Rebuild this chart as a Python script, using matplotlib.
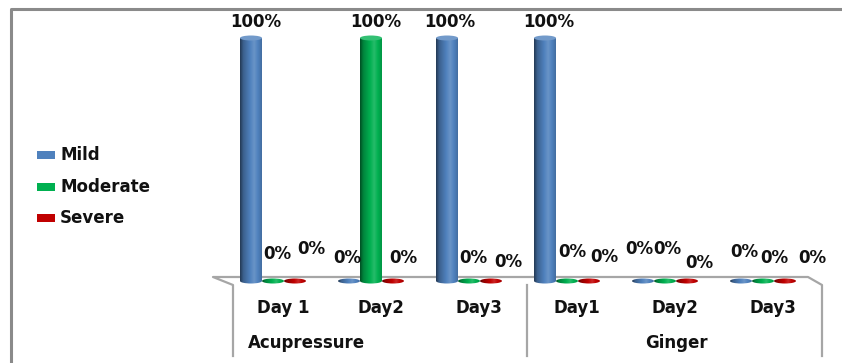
import numpy as np
import matplotlib.pyplot as plt
from matplotlib.patches import Ellipse, Rectangle
from matplotlib.colors import to_rgb

groups = ['Acupressure', 'Ginger']
days = ['Day 1', 'Day2', 'Day3', 'Day1', 'Day2', 'Day3']
series = ['Mild', 'Moderate', 'Severe']
mild = [100, 0, 100, 100, 0, 0]
moderate = [0, 100, 0, 0, 0, 0]
severe = [0, 0, 0, 0, 0, 0]
colors = ['#4f81bd', '#00b050', '#c00000']

# label nudges in pixels (dx, dy above the bar top), per day and series
nudges = [
    [(5, 16), (4, 27), (16, 32)],
    [(-2, 23), (5, 16), (10, 23)],
    [(3, 16), (4, 23), (17, 19)],
    [(4, 16), (5, 29), (15, 24)],
    [(-4, 32), (2, 32), (12, 18)],
    [(3, 29), (11, 23), (27, 23)],
]

W, H = 842, 363
fig = plt.figure(figsize=(W / 100, H / 100), dpi=100)
ax = fig.add_axes([0, 0, 1, 1])
ax.set_axis_off()

step = 98.0      # px per day
x0 = 273.0       # px centre of the first day
base = 281.0     # px baseline (from top)
ppu = 2.43       # px per percent
ax.set_xlim(-x0 / step, (W - x0) / step)
ax.set_ylim(-(H - base) / ppu, base / ppu)


def px(x, y):
    return (x - x0) / step, (base - y) / ppu


plt.rcParams['font.family'] = ['DejaVu Sans']
font = dict(fontsize=12, fontweight='bold', color='#111111')

# outer frame
fx, fy = zip(px(11, H), px(11, 9), px(W, 9))
ax.plot(fx, fy, color='#8a8a8a', lw=2.2, solid_capstyle='butt')

# floor and category box
fx, fy = zip(px(233, 356), px(233, 285), px(213, 277), px(808, 277),
             px(822, 285), px(822, 356))
ax.plot(fx, fy, color='#a6a6a6', lw=1.6)
fx, fy = zip(px(527, 285), px(527, 356))
ax.plot(fx, fy, color='#a6a6a6', lw=1.6)


def shaded(rgb, n=64):
    t = np.linspace(0, 1, n)
    f = np.interp(t, [0, 0.15, 0.65, 1], [0.45, 0.75, 1.15, 0.85])
    rgb = np.array(rgb)
    out = np.where(f[:, None] <= 1, rgb * f[:, None],
                   rgb + (1 - rgb) * (f[:, None] - 1))
    return out[None, :, :]


bw = 22 / step
cap = 5 / ppu
values = [mild, moderate, severe]
for i in range(len(days)):
    for s in range(3):
        v = values[s][i]
        xc = i + (s - 1) * bw
        rgb = to_rgb(colors[s])
        img = shaded(rgb)
        bot = Ellipse((xc, 0), bw, cap, facecolor='none', edgecolor='none')
        ax.add_patch(bot)
        im = ax.imshow(img, extent=(xc - bw / 2, xc + bw / 2, -cap, v + cap),
                       aspect='auto', zorder=2)
        im.set_clip_path(bot)
        if v > 0:
            rect = ax.bar(xc, v, bw, color=colors[s], zorder=2)[0]
            im = ax.imshow(img, extent=(xc - bw / 2, xc + bw / 2, 0, v),
                           aspect='auto', zorder=2.1)
            im.set_clip_path(rect)
            top = tuple(np.array(rgb) + (1 - np.array(rgb)) * 0.2)
            ax.add_patch(Ellipse((xc, v), bw, cap, facecolor=top,
                                 edgecolor='none', zorder=2.2))
        dx, dy = nudges[i][s]
        ax.annotate(f'{v}%', xy=(xc, v), xytext=(dx, dy),
                    textcoords='offset pixels', ha='center', va='center',
                    zorder=3, **font)

ax.set_xlim(-x0 / step, (W - x0) / step)
ax.set_ylim(-(H - base) / ppu, base / ppu)

# category labels
for i, d in enumerate(days):
    ax.text(i + 10 / step, px(0, 308)[1], d, ha='center', va='center', **font)
ax.text(px(248, 0)[0], px(0, 343)[1], groups[0], ha='left', va='center', **font)
ax.text(px(676, 0)[0], px(0, 343)[1], groups[1], ha='center', va='center', **font)

# legend
for k, name in enumerate(series):
    yk = 155 + 31.5 * k
    lx, ly = px(37, yk + 4)
    ax.add_patch(Rectangle((lx, ly), 18 / step, 8 / ppu, facecolor=colors[k],
                           edgecolor='none'))
    ax.text(px(60, 0)[0], px(0, yk)[1], name, ha='left', va='center', **font)

fig.savefig('out.png', dpi=100, facecolor='white')
